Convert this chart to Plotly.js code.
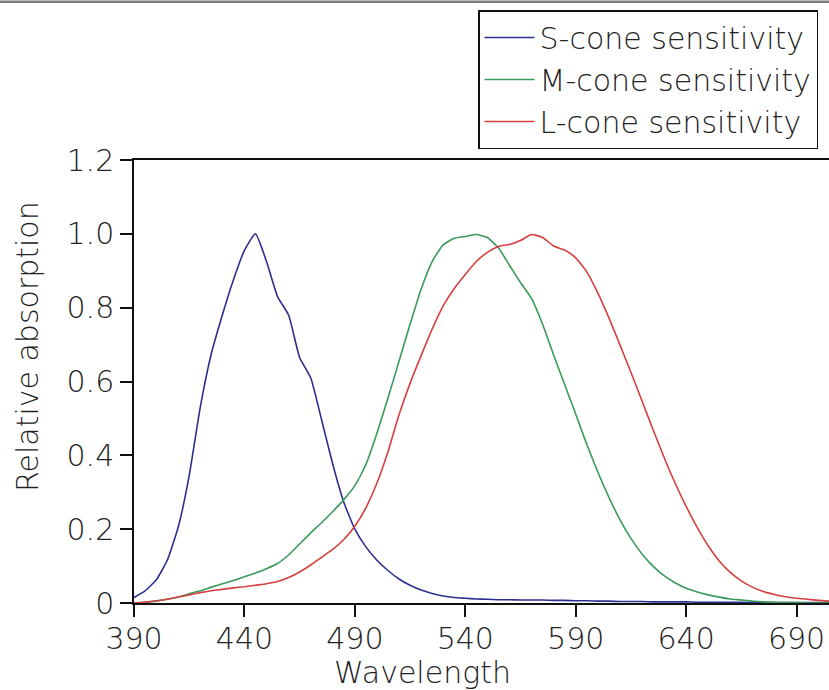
<!DOCTYPE html>
<html>
<head>
<meta charset="utf-8">
<script src="https://cdn.plot.ly/plotly-3.0.1.min.js"></script>
<style>
  html, body { margin: 0; padding: 0; background: #fff; }
  #chart { width: 829px; height: 690px; }
</style>
</head>
<body>
<div id="chart"></div>
<script>
// Wavelength grid (nm)
const wavelength = [
  390, 395, 400, 405, 410, 415, 420, 425, 430, 435,
  440, 445, 450, 455, 460, 465, 470, 475, 480, 485,
  490, 495, 500, 505, 510, 515, 520, 525, 530, 535,
  540, 545, 550, 555, 560, 565, 570, 575, 580, 585,
  590, 595, 600, 605, 610, 615, 620, 625, 630, 635,
  640, 645, 650, 655, 660, 665, 670, 675, 680, 685,
  690, 695, 700, 705
];

// S-cone relative absorption
const sCone = [
  0.015, 0.033, 0.062, 0.115, 0.205, 0.345, 0.530, 0.675, 0.780, 0.875,
  0.955, 1.000, 0.925, 0.830, 0.780, 0.665, 0.610, 0.495, 0.376, 0.273,
  0.200, 0.152, 0.116, 0.088, 0.065, 0.048, 0.035, 0.026, 0.019, 0.015,
  0.013, 0.011, 0.010, 0.009, 0.009, 0.008, 0.008, 0.008, 0.007, 0.007,
  0.006, 0.006, 0.005, 0.005, 0.004, 0.004, 0.004, 0.003, 0.003, 0.003,
  0.003, 0.002, 0.002, 0.002, 0.002, 0.002, 0.001, 0.001, 0.001, 0.001,
  0.001, 0.001, 0.001, 0.001
];

// M-cone relative absorption
const mCone = [
  0.000, 0.002, 0.005, 0.010, 0.016, 0.025, 0.033, 0.043, 0.052, 0.061,
  0.071, 0.081, 0.093, 0.107, 0.130, 0.160, 0.190, 0.218, 0.248, 0.280,
  0.318, 0.375, 0.460, 0.555, 0.655, 0.755, 0.850, 0.925, 0.970, 0.988,
  0.993, 0.998, 0.990, 0.962, 0.915, 0.868, 0.825, 0.755, 0.672, 0.592,
  0.512, 0.430, 0.355, 0.287, 0.226, 0.175, 0.133, 0.100, 0.074, 0.055,
  0.040, 0.030, 0.022, 0.016, 0.011, 0.008, 0.005, 0.003, 0.002, 0.001,
  0.001, 0.000, 0.000, 0.000
];

// L-cone relative absorption
const lCone = [
  0.000, 0.002, 0.006, 0.010, 0.016, 0.022, 0.028, 0.033, 0.037, 0.041,
  0.044, 0.048, 0.052, 0.058, 0.069, 0.084, 0.103, 0.124, 0.145, 0.172,
  0.208, 0.258, 0.325, 0.410, 0.510, 0.595, 0.670, 0.742, 0.805, 0.852,
  0.890, 0.925, 0.950, 0.966, 0.971, 0.982, 0.998, 0.990, 0.967, 0.956,
  0.935, 0.897, 0.840, 0.773, 0.700, 0.625, 0.548, 0.470, 0.395, 0.325,
  0.262, 0.205, 0.155, 0.114, 0.083, 0.060, 0.043, 0.031, 0.023, 0.017,
  0.013, 0.010, 0.007, 0.005
];

const seriesNames = ["S-cone sensitivity", "M-cone sensitivity", "L-cone sensitivity"];
const xTicks = [390, 440, 490, 540, 590, 640, 690];
const yTicks = [0, 0.2, 0.4, 0.6, 0.8, 1.0, 1.2];
const yTickText = ["0", "0.2", "0.4", "0.6", "0.8", "1.0", "1.2"];
const xTitle = "Wavelength";
const yTitle = "Relative absorption";

const FONT = "DejaVu Sans, sans-serif";
const TXT = "#222";

const colors = ["#2d2f8e", "#3a9a5c", "#d53f3f"];
const values = [sCone, mCone, lCone];

const traces = values.map((v, i) => ({
  type: "scatter",
  mode: "lines",
  name: seriesNames[i],
  x: wavelength,
  y: v,
  line: { color: colors[i], width: 1.6, shape: "spline", smoothing: 0.5 },
  hoverinfo: "x+y+name"
}));

const layout = {
  width: 829,
  height: 690,
  margin: { l: 134, r: 0, t: 160, b: 87, autoexpand: false },
  paper_bgcolor: "#fff",
  plot_bgcolor: "#fff",
  font: { family: FONT, size: 30, color: TXT, weight: 200 },
  showlegend: true,
  legend: {
    x: 0.495, xanchor: "left",
    y: 1.3386, yanchor: "top",
    bgcolor: "#fff",
    bordercolor: "#111",
    borderwidth: 1.5,
    font: { family: FONT, size: 30, color: TXT, weight: 200 },
    itemwidth: 50,
    tracegroupgap: 0
  },
  xaxis: {
    range: [390, 704.7],
    tickmode: "array",
    tickvals: xTicks,
    ticktext: xTicks.map(String),
    ticks: "outside",
    ticklen: 12,
    tickwidth: 1.5,
    tickcolor: "#111",
    ticklabelstandoff: -4,
    showline: true,
    linecolor: "#111",
    linewidth: 1.5,
    mirror: true,
    showgrid: false,
    zeroline: false,
    tickfont: { family: FONT, size: 30, color: TXT, weight: 200 }
  },
  yaxis: {
    range: [0, 1.2],
    tickmode: "array",
    tickvals: yTicks,
    ticktext: yTickText,
    ticks: "outside",
    ticklen: 12,
    tickwidth: 1.5,
    tickcolor: "#111",
    showline: true,
    linecolor: "#111",
    linewidth: 1.5,
    showgrid: false,
    zeroline: false,
    tickfont: { family: FONT, size: 30, color: TXT, weight: 200 }
  },
  annotations: [
    {
      text: xTitle, xref: "paper", yref: "paper",
      x: 0.4158, y: -0.158, xanchor: "center", yanchor: "middle",
      showarrow: false,
      font: { family: FONT, size: 30, color: TXT, weight: 200 }
    },
    {
      text: yTitle, xref: "paper", yref: "paper",
      x: -0.154, y: 0.58, xanchor: "center", yanchor: "middle",
      textangle: -90, showarrow: false,
      font: { family: FONT, size: 30, color: TXT, weight: 200 }
    }
  ],
  shapes: [
    {
      type: "line", xref: "paper", yref: "paper",
      x0: -0.2, x1: 1.0, y0: 1.357, y1: 1.357,
      line: { color: "#7a7a7a", width: 2.5 }
    }
  ]
};

Plotly.newPlot("chart", traces, layout, { displayModeBar: false, responsive: false });
</script>
</body>
</html>
